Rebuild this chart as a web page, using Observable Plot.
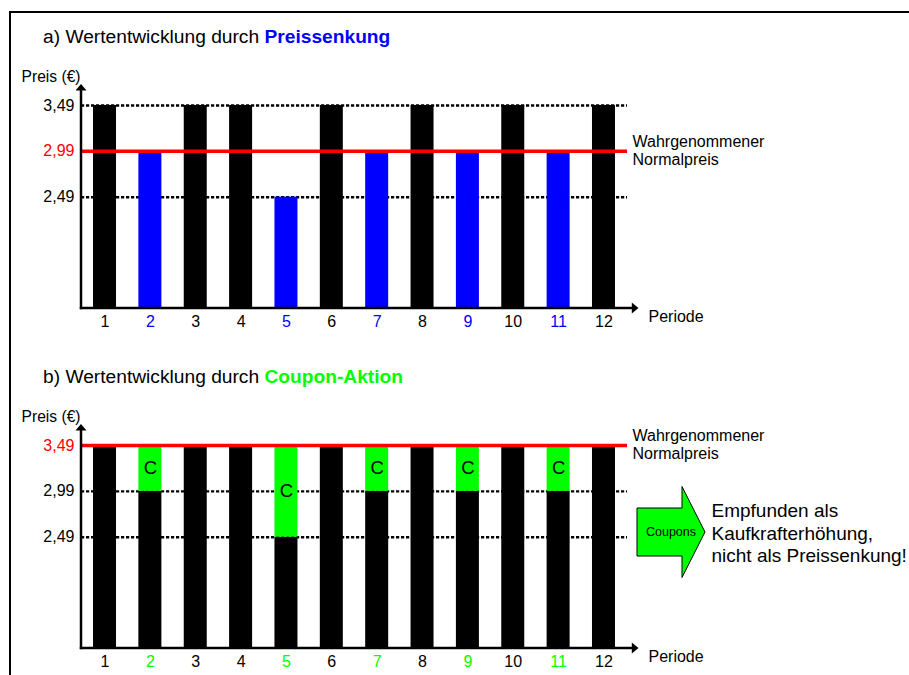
<!DOCTYPE html>
<html>
<head>
<meta charset="utf-8">
<script src="https://cdn.jsdelivr.net/npm/d3@7"></script>
<script src="https://cdn.jsdelivr.net/npm/@observablehq/plot@0.6"></script>
<style>
  body { margin: 0; background: #fff; font-family: "Liberation Sans", Arial, sans-serif; }
  #wrap { position: relative; width: 909px; height: 675px; overflow: hidden; background: #fff; }
  .panel { position: absolute; left: 0; }
  .title { position: absolute; left: 43px; font-size: 19.2px; line-height: 19px; white-space: nowrap; color: #000; }
  .frameBorder { position: absolute; left: 9px; top: 11px; width: 1000px; height: 1000px;
    border-left: 2px solid #000; border-top: 2px solid #000; box-sizing: border-box; pointer-events: none; }
</style>
</head>
<body>
<div id="wrap">
  <div id="panelA" class="panel" style="top:0px"></div>
  <div id="panelB" class="panel" style="top:340px"></div>
  <div class="title" style="top:27px">a) Wertentwicklung durch <b style="color:#0000ff">Preissenkung</b></div>
  <div class="title" style="top:367px">b) Wertentwicklung durch <b style="color:#00ff00">Coupon-Aktion</b></div>
  <div class="frameBorder"></div>
</div>
<script>
// ---- data ----
const periods = [1, 2, 3, 4, 5, 6, 7, 8, 9, 10, 11, 12];
const prices = [3.49, 2.99, 3.49, 3.49, 2.49, 3.49, 2.99, 3.49, 2.99, 3.49, 2.99, 3.49];
const regularPrice = 3.49;
const priceTicks = [3.49, 2.99, 2.49];
const priceTickLabels = ["3,49", "2,99", "2,49"];
const normalPriceA = 2.99;   // perceived normal price after price cuts
const normalPriceB = 3.49;   // perceived normal price with coupon campaign
const yAxisLabel = "Preis (€)";
const xAxisLabel = "Periode";
const normalLabel = "Wahrgenommener\nNormalpreis";
const couponLetter = "C";
const couponArrowLabel = "Coupons";
const couponNote = "Empfunden als\nKaufkrafterhöhung,\nnicht als Preissenkung!";

const BLACK = "#000000", BLUE = "#0000ff", GREEN = "#00ff00", RED = "#ff0000";
const FONT = '"Liberation Sans", Arial, sans-serif';

const rows = periods.map((p, i) => ({period: p, price: prices[i], cut: prices[i] < regularPrice}));
const yBase = 1.276, yTop = 3.719;

function axesMark(index, scales, values, dims) {
  const l = dims.marginLeft, t = dims.marginTop;
  const b = dims.height - dims.marginBottom, r = dims.width - dims.marginRight;
  const g = d3.create("svg:g");
  g.append("line").attr("x1", l).attr("x2", l).attr("y1", b + 1.2).attr("y2", t + 5)
    .attr("stroke", BLACK).attr("stroke-width", 2.5);
  g.append("path").attr("d", `M${l},${t} L${l - 5.5},${t + 6.5} L${l + 5.5},${t + 6.5} Z`).attr("fill", BLACK);
  g.append("line").attr("x1", l - 1.2).attr("x2", r + 6).attr("y1", b).attr("y2", b)
    .attr("stroke", BLACK).attr("stroke-width", 2.5);
  g.append("path").attr("d", `M${r + 11.5},${b} L${r + 4.8},${b - 5.5} L${r + 4.8},${b + 5.5} Z`).attr("fill", BLACK);
  return g.node();
}

function couponArrowMark(index, scales, values, dims) {
  const r = dims.width - dims.marginRight;
  const cy = dims.marginTop + 108;
  const g = d3.create("svg:g");
  const pts = [[r + 10, cy - 24], [r + 55, cy - 24], [r + 55, cy - 45.5], [r + 78, cy],
               [r + 55, cy + 45.5], [r + 55, cy + 24], [r + 10, cy + 24]];
  g.append("path").attr("d", "M" + pts.map(p => p.join(",")).join("L") + "Z")
    .attr("fill", GREEN).attr("stroke", BLACK).attr("stroke-width", 1);
  g.append("text").attr("x", r + 44).attr("y", cy).attr("dy", "0.35em")
    .attr("text-anchor", "middle").attr("font-size", 12.5).attr("font-family", FONT)
    .attr("fill", BLACK).text(couponArrowLabel);
  return g.node();
}

function panel(mode, height) {
  const normal = mode === "a" ? normalPriceA : normalPriceB;
  const accent = mode === "a" ? BLUE : GREEN;
  const marks = [];
  // dashed reference lines (behind bars)
  marks.push(Plot.ruleY(priceTicks.filter(v => v !== normal), {
    stroke: BLACK, strokeWidth: 2.4, strokeDasharray: "3.2,1.8"
  }));
  if (mode === "a") {
    marks.push(Plot.barY(rows, {x: "period", y1: yBase, y2: "price",
      fill: d => d.cut ? BLUE : BLACK}));
  } else {
    marks.push(Plot.barY(rows, {x: "period", y1: yBase, y2: "price", fill: BLACK}));
    marks.push(Plot.barY(rows.filter(d => d.cut), {x: "period", y1: "price", y2: regularPrice, fill: GREEN}));
  }
  // perceived normal price
  marks.push(Plot.ruleY([normal], {stroke: RED, strokeWidth: 3.5}));
  if (mode === "b") {
    marks.push(Plot.text(rows.filter(d => d.cut), {
      x: "period", y: d => (d.price + regularPrice) / 2, text: () => couponLetter,
      fontSize: 18.5, lineAnchor: "middle", fill: BLACK
    }));
  }
  marks.push(axesMark);
  // y tick labels
  marks.push(Plot.text(priceTicks, {
    y: d => d, text: (d, i) => priceTickLabels[i], frameAnchor: "left", dx: -7,
    textAnchor: "end", lineAnchor: "middle", fontSize: 16,
    fill: d => d === normal ? RED : BLACK
  }));
  // x tick labels
  marks.push(Plot.text(rows, {
    x: "period", text: d => String(d.period), frameAnchor: "bottom", dy: 13,
    lineAnchor: "middle", fontSize: 16, fill: d => d.cut ? accent : BLACK
  }));
  marks.push(Plot.text([yAxisLabel], {
    text: d => d, frameAnchor: "top-left", dx: -1, dy: -8, textAnchor: "end",
    lineAnchor: "middle", fontSize: 15.6, fill: BLACK
  }));
  marks.push(Plot.text([xAxisLabel], {
    text: d => d, frameAnchor: "bottom-right", dx: 21, dy: 8, textAnchor: "start",
    lineAnchor: "middle", fontSize: 16, fill: BLACK
  }));
  marks.push(Plot.text([normal], {
    y: d => d, text: () => normalLabel, frameAnchor: "right", dx: 5, dy: -1,
    textAnchor: "start", lineAnchor: "middle", lineHeight: 1.125, fontSize: 16, fill: BLACK
  }));
  if (mode === "b") {
    marks.push(couponArrowMark);
    marks.push(Plot.text([couponNote], {
      text: d => d, frameAnchor: "top-right", dx: 84, dy: 108, textAnchor: "start",
      lineAnchor: "middle", lineHeight: 1.184, fontSize: 19, fill: BLACK
    }));
  }
  return Plot.plot({
    width: 909, height,
    marginLeft: 81, marginRight: 282, marginTop: 84, marginBottom: height - 308,
    x: {type: "band", domain: periods, paddingInner: 0.493, paddingOuter: 0.265, round: false, axis: null},
    y: {domain: [yBase, yTop], axis: null},
    color: {type: "identity"},
    style: {background: "none", fontFamily: FONT, fontSize: "16px", color: BLACK, overflow: "visible"},
    marks
  });
}

document.getElementById("panelA").appendChild(panel("a", 340));
document.getElementById("panelB").appendChild(panel("b", 335));
</script>
</body>
</html>
